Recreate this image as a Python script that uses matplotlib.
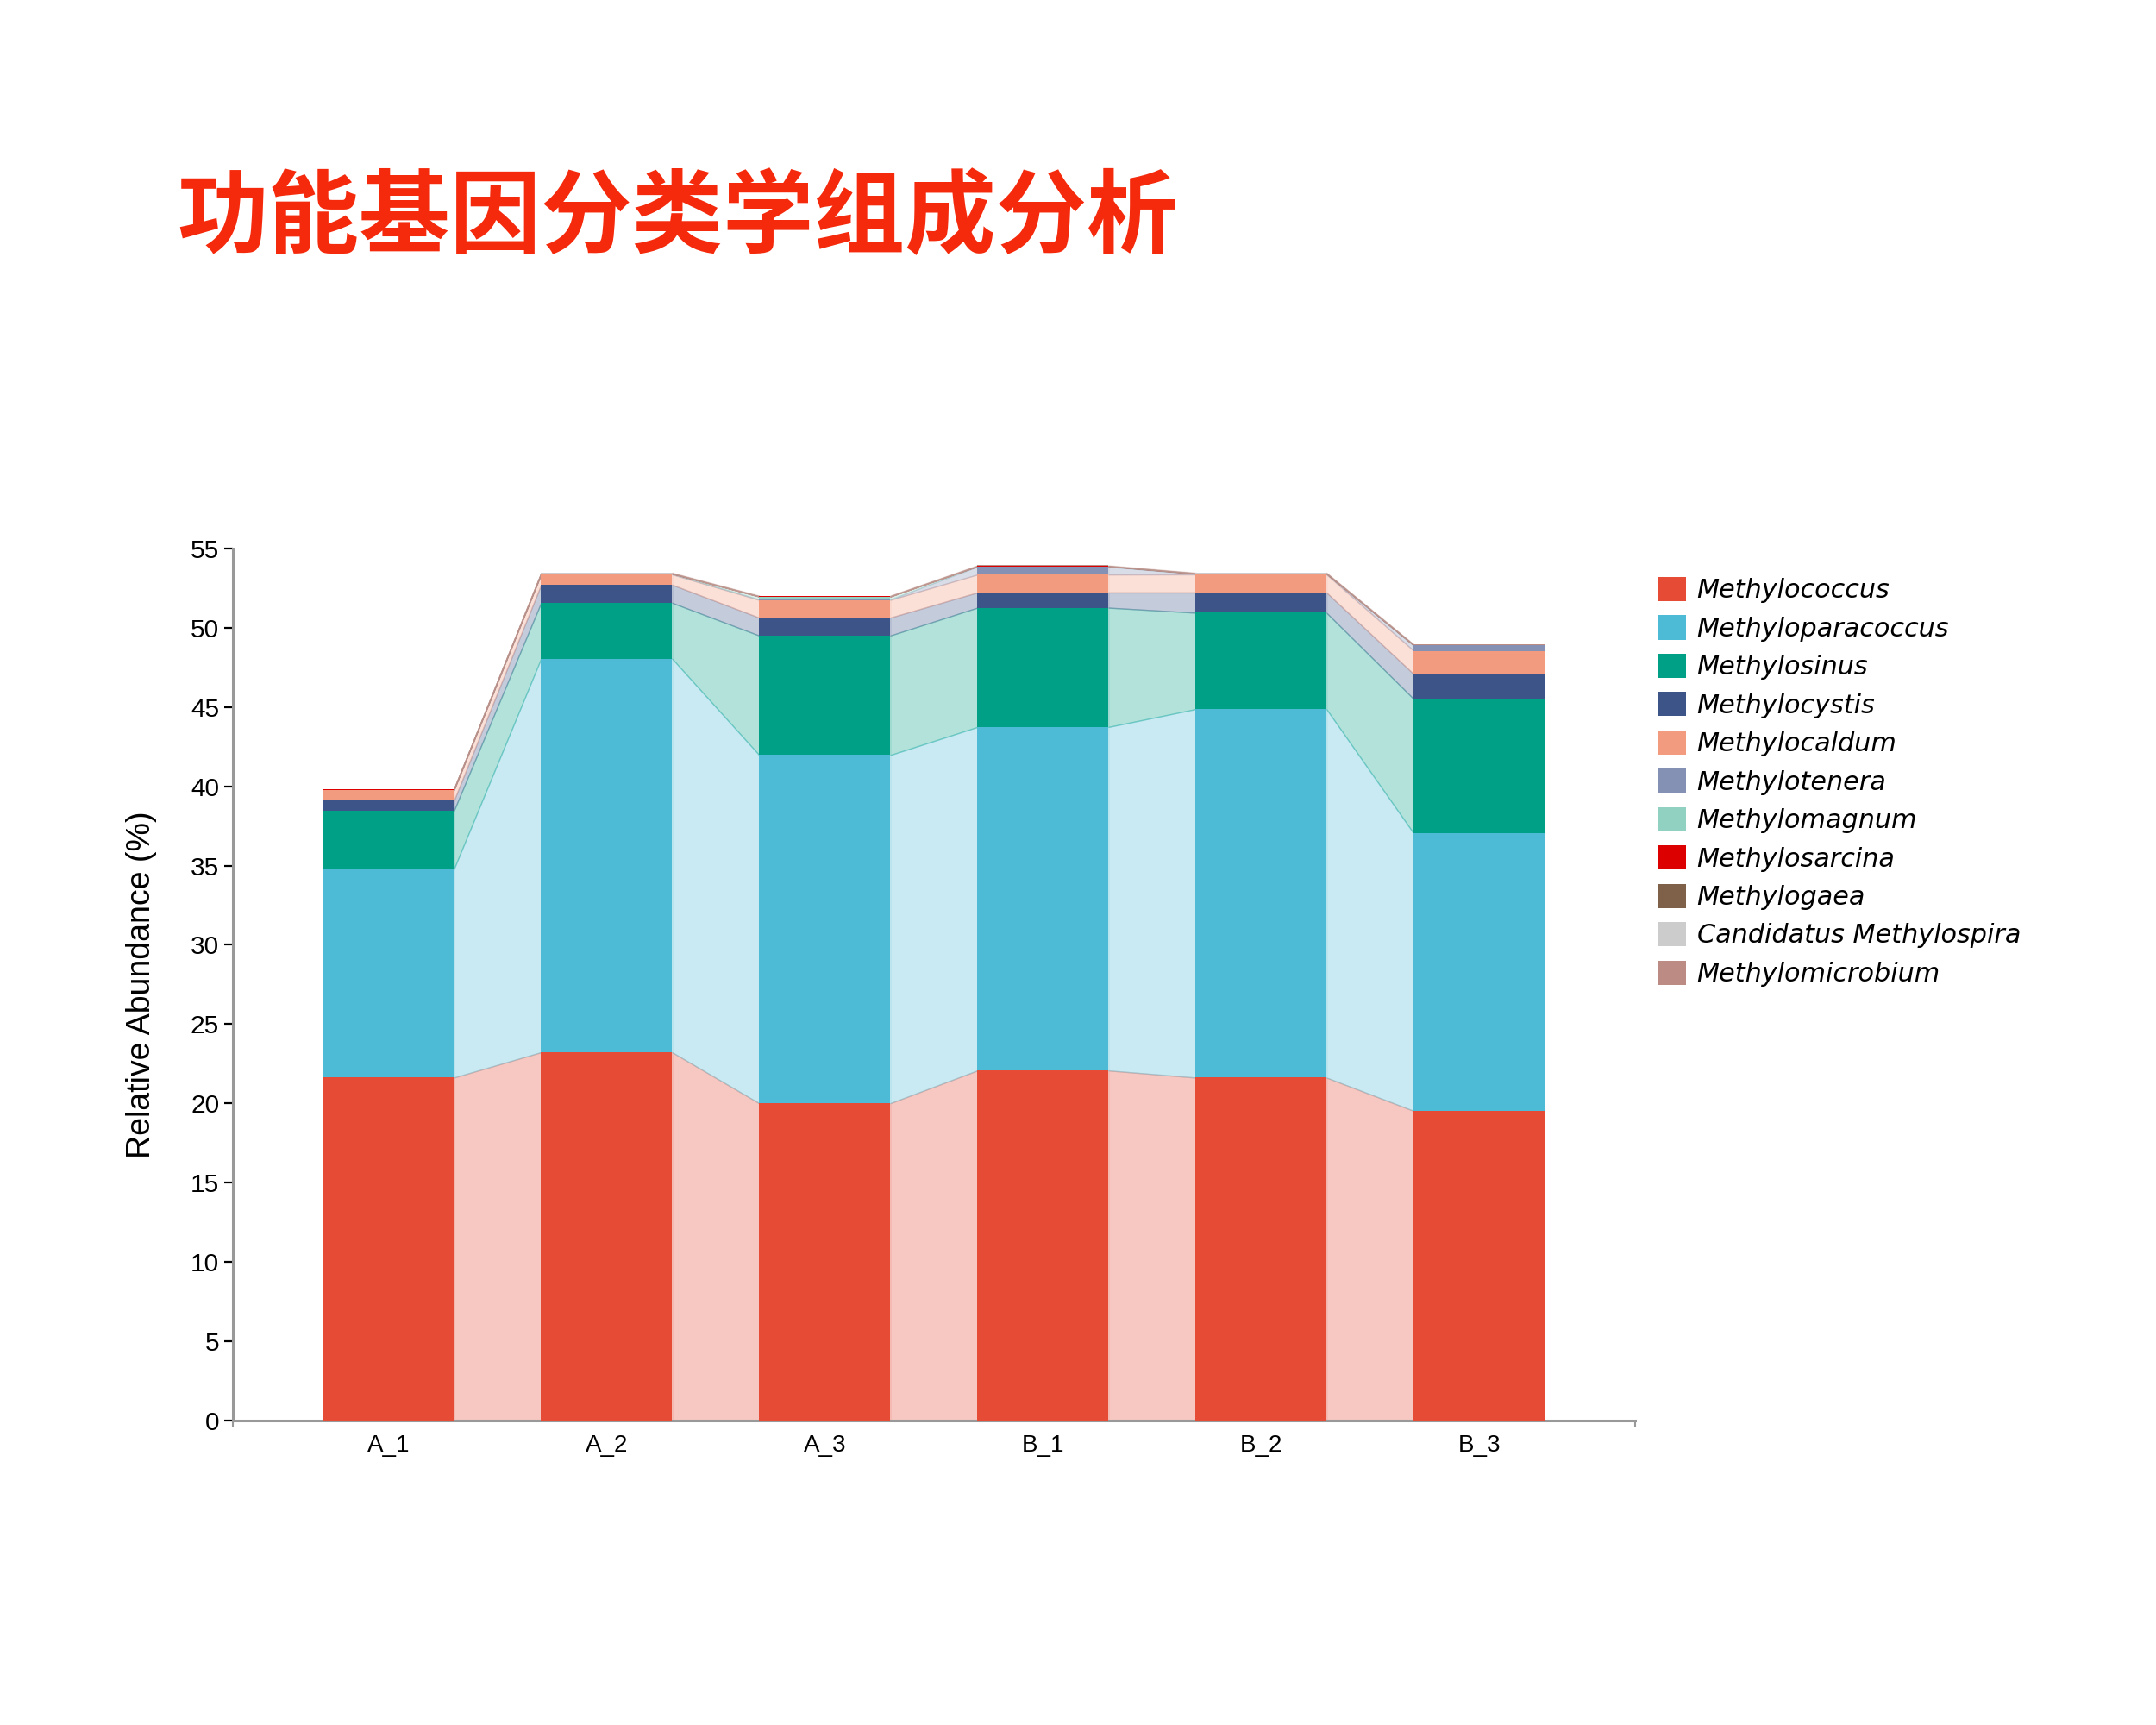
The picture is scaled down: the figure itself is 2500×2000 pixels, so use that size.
import matplotlib
matplotlib.use("Agg")
import matplotlib.pyplot as plt
import numpy as np

samples = ["A_1", "A_2", "A_3", "B_1", "B_2", "B_3"]

genera = [
    "Methylococcus", "Methyloparacoccus", "Methylosinus", "Methylocystis",
    "Methylocaldum", "Methylotenera", "Methylomagnum", "Methylosarcina",
    "Methylogaea", "Candidatus Methylospira", "Methylomicrobium",
]
colors = [
    "#E64B35", "#4DBBD5", "#00A087", "#3C5488", "#F39B7F", "#8491B4",
    "#91D1C2", "#DC0000", "#7E6148", "#CCCCCC", "#BC8B83",
]

# relative abundance (%) per sample, one list per genus
methylococcus = [21.62, 23.22, 20.00, 22.07, 21.62, 19.52]
methyloparacoccus = [13.15, 24.84, 21.97, 21.67, 23.25, 17.51]
methylosinus = [3.68, 3.52, 7.54, 7.53, 6.08, 8.48]
methylocystis = [0.64, 1.14, 1.13, 0.96, 1.28, 1.57]
methylocaldum = [0.66, 0.65, 1.12, 1.13, 1.14, 1.47]
methylotenera = [0.02, 0.03, 0.03, 0.50, 0.03, 0.33]
methylomagnum = [0.02, 0.02, 0.18, 0.02, 0.02, 0.02]
methylosarcina = [0.01, 0.01, 0.01, 0.01, 0.01, 0.01]
methylogaea = [0.01, 0.01, 0.01, 0.01, 0.01, 0.01]
candidatus_methylospira = [0.01, 0.01, 0.01, 0.01, 0.01, 0.01]
methylomicrobium = [0.02, 0.03, 0.03, 0.03, 0.03, 0.03]

layers = [
    methylococcus, methyloparacoccus, methylosinus, methylocystis,
    methylocaldum, methylotenera, methylomagnum, methylosarcina,
    methylogaea, candidatus_methylospira, methylomicrobium,
]

TITLE_RED = "#F52A0C"
AXIS_GREY = "#999999"
BAR_W = 0.6

fig = plt.figure(figsize=(25, 20), dpi=100)
ax = fig.add_axes([0.1078, 0.17665, 0.6506, 0.50535])

x = np.arange(len(samples))
bottom = np.zeros(len(samples))
handles = []
for name, vals, col in zip(genera, layers, colors):
    vals = np.array(vals)
    top = bottom + vals
    h = ax.bar(x, vals, BAR_W, bottom=bottom, color=col, linewidth=0,
               label=name, zorder=3)
    handles.append(h)
    # translucent links between neighbouring bars
    for i in range(len(samples) - 1):
        xs = [x[i] + BAR_W / 2, x[i + 1] - BAR_W / 2]
        ax.fill_between(xs, [bottom[i], bottom[i + 1]], [top[i], top[i + 1]],
                        color=col, alpha=0.3, linewidth=1.0, zorder=2)
    bottom = top

ax.set_xlim(-0.715, len(samples) - 1 + 0.715)
ax.set_ylim(0, 55)
ax.set_yticks(np.arange(0, 56, 5))
ax.set_xticks(x)
ax.set_xticklabels(samples, fontsize=20, family="Liberation Sans")
for lab in ax.get_yticklabels():
    lab.set_family("Liberation Sans")
ax.tick_params(axis="y", labelsize=21.5, length=7, width=1.6, colors="black",
               pad=4)
ax.tick_params(axis="x", length=0, pad=12, colors="black")
ax.set_xticks(ax.get_xlim(), minor=True)
ax.tick_params(axis="x", which="minor", length=6, width=1.5, color=AXIS_GREY)

for side in ("top", "right"):
    ax.spines[side].set_visible(False)
for side in ("left", "bottom"):
    ax.spines[side].set_color(AXIS_GREY)
    ax.spines[side].set_linewidth(2.2)

ax.set_ylabel("Relative Abundance (%)", fontsize=27, family="Liberation Sans",
              labelpad=28)

fig.text(0.082, 0.873, "功能基因分类学组成分析", fontsize=76,
         family=["Noto Sans CJK SC", "DejaVu Sans"], fontweight="bold",
         color=TITLE_RED, ha="left", va="center")

fig.legend(handles=handles, labels=genera, loc="upper left",
           bbox_to_anchor=(0.7692, 0.6655), bbox_transform=fig.transFigure,
           frameon=False, borderpad=0, borderaxespad=0,
           prop={"family": "DejaVu Sans", "style": "italic", "size": 21.8},
           handlelength=1.05, handleheight=1.05, handletextpad=0.42,
           labelspacing=0.465)

fig.savefig("out.png", dpi=100)
